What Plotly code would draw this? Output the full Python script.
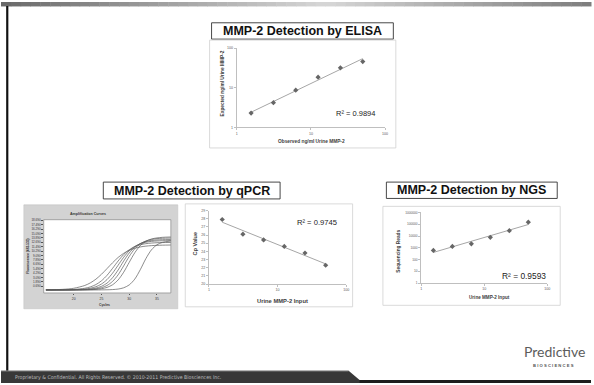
import numpy as np
import plotly.graph_objects as go

W, H = 594, 385

# ---------------- data ----------------
conc = [1.5625, 3.125, 6.25, 12.5, 25, 50]
elisa_expected = [2.3, 4.2, 8.7, 18.5, 32, 46]
qpcr_cp = [27.9, 26.1, 25.4, 24.6, 23.8, 22.3]
ngs_reads = [590, 1300, 2150, 7800, 28500, 150000]

conc_ticks = [1, 10, 100]
conc_ticktext = ["1", "10", "100"]
elisa_yticks = [1, 10, 100]
elisa_yticktext = ["1", "10", "100"]
cp_ticks = [20, 21, 22, 23, 24, 25, 26, 27, 28, 29]
ngs_ticks = [1, 10, 100, 1000, 10000, 100000, 1000000]
ngs_ticktext = ["1", "10", "100", "1000", "10000", "100000", "1000000"]

r2_elisa = "R² = 0.9894"
r2_qpcr = "R² = 0.9745"
r2_ngs = "R² = 0.9593"

amp_cycles = [15, 18, 20, 22, 23, 24, 25, 26, 27, 28, 29, 30, 31, 32, 33, 34, 35, 36, 37.5]
amp_curve_a = [-0.27, -0.14, 0.15, 0.92, 1.63, 2.64, 3.97, 5.53, 7.12, 8.57, 9.70, 10.54, 11.09, 11.45, 11.67, 11.80, 11.88, 11.93, 11.97]
amp_curve_b = [-0.30, -0.26, -0.17, 0.16, 0.53, 1.17, 2.19, 3.69, 5.59, 7.60, 9.36, 10.67, 11.53, 12.05, 12.34, 12.50, 12.60, 12.64, 12.67]
amp_curve_c = [-0.30, -0.28, -0.24, -0.06, 0.17, 0.58, 1.31, 2.52, 4.28, 6.45, 8.62, 10.38, 11.59, 12.32, 12.73, 12.96, 13.08, 13.13, 13.17]
amp_curve_d = [-0.30, -0.30, -0.27, -0.18, -0.05, 0.20, 0.68, 1.56, 3.04, 5.14, 7.59, 9.79, 11.39, 12.38, 12.93, 13.21, 13.36, 13.43, 13.47]
amp_curve_e = [-0.30, -0.30, -0.28, -0.23, -0.16, -0.01, 0.31, 0.91, 2.03, 3.83, 6.27, 8.85, 10.93, 12.31, 13.09, 13.50, 13.71, 13.81, 13.87]
amp_curve_f = [-0.30, -0.30, -0.30, -0.27, -0.23, -0.15, 0.03, 0.39, 1.11, 2.43, 4.54, 7.23, 9.85, 11.81, 12.97, 13.61, 13.91, 14.07, 14.16]
amp_curve_g = [-0.30, -0.30, -0.30, -0.30, -0.30, -0.30, -0.28, -0.26, -0.20, -0.06, 0.29, 1.07, 2.66, 5.24, 8.25, 10.64, 12.04, 12.70, 13.07]
amp_curves = [amp_curve_a, amp_curve_b, amp_curve_c, amp_curve_d, amp_curve_e, amp_curve_f, amp_curve_g]
amp_xticks = [20, 25, 30, 35]
amp_yticks = [0.69, 1.89, 3.09, 4.29, 5.49, 6.69, 7.89, 9.09, 10.29, 11.49, 12.69, 13.89, 15.09, 16.29, 17.49, 18.69]

# ---------------- helpers ----------------
def px(x):
    return x / W

def py(y):
    return 1 - y / H

FONT = "Liberation Sans, Arial, sans-serif"

def ann(text, x, y, size, color="#404040", angle=0, family=FONT, xanchor="center"):
    return dict(text=text, x=px(x), y=py(y), xref="paper", yref="paper",
                showarrow=False, textangle=angle, xanchor=xanchor, yanchor="middle",
                font=dict(size=size, color=color, family=family))

def rect(x0, y0, x1, y1, fill="white", line="rgba(0,0,0,0)", lw=0, layer="below"):
    return dict(type="rect", xref="paper", yref="paper",
                x0=px(x0), x1=px(x1), y0=py(y1), y1=py(y0),
                fillcolor=fill, line=dict(color=line, width=lw), layer=layer)

def excel_axis(domain, **kw):
    d = dict(domain=domain, showline=True, linecolor="#bfbfbf", linewidth=0.8,
             ticks="outside", ticklen=2, tickcolor="#bfbfbf", tickwidth=0.6,
             showgrid=False, zeroline=False,
             tickfont=dict(size=3.6, color="#595959", family=FONT))
    d.update(kw)
    return d

fig = go.Figure()

# ---------------- fits (trend lines) ----------------
lx = np.log10(conc)
e_fit = np.polyfit(lx, np.log10(elisa_expected), 1)
q_fit = np.polyfit(lx, qpcr_cp, 1)
n_fit = np.polyfit(lx, np.log10(ngs_reads), 1)
xe = np.array([min(conc), max(conc)])
lxe = np.log10(xe)

marker = dict(symbol="diamond", size=4, color="#666666")
trend = dict(color="#a6a6a6", width=1)

# ELISA
fig.add_trace(go.Scatter(x=xe, y=10 ** np.polyval(e_fit, lxe), mode="lines", line=trend,
                         xaxis="x", yaxis="y", hoverinfo="skip"))
fig.add_trace(go.Scatter(x=conc, y=elisa_expected, mode="markers", marker=marker,
                         xaxis="x", yaxis="y"))
# Amplification curves
for c in amp_curves:
    fig.add_trace(go.Scatter(x=amp_cycles, y=c, mode="lines",
                             line=dict(color="#5a5a5a", width=0.7, shape="spline", smoothing=0.8),
                             xaxis="x2", yaxis="y2", hoverinfo="skip"))
# qPCR
fig.add_trace(go.Scatter(x=xe, y=np.polyval(q_fit, lxe), mode="lines", line=trend,
                         xaxis="x3", yaxis="y3", hoverinfo="skip"))
fig.add_trace(go.Scatter(x=conc, y=qpcr_cp, mode="markers", marker=marker,
                         xaxis="x3", yaxis="y3"))
# NGS
fig.add_trace(go.Scatter(x=xe, y=10 ** np.polyval(n_fit, lxe), mode="lines", line=trend,
                         xaxis="x4", yaxis="y4", hoverinfo="skip"))
fig.add_trace(go.Scatter(x=conc, y=ngs_reads, mode="markers", marker=marker,
                         xaxis="x4", yaxis="y4"))

# ---------------- shapes ----------------
shapes = []
# top gradient band
n = 60
for i in range(n):
    t = (i + 0.5) / n
    g = int(105 + 110 * max(0.0, 1 - abs(t - 0.55) / 0.55))
    shapes.append(rect(W * i / n, 0, W * (i + 1) / n + 0.5, 4.5, fill=f"rgb({g},{g},{g})"))
# left black line
shapes.append(rect(5.2, 4, 7.4, 373, fill="#111111"))
# bottom bar
def path_pts(pts):
    return "M " + " L ".join(f"{px(a):.5f},{py(b):.5f}" for a, b in pts) + " Z"
shapes.append(dict(type="path", xref="paper", yref="paper", layer="below",
                   path=path_pts([(0, 372.5), (350, 372.5), (361, 382), (594, 382), (594, 385), (0, 385)]),
                   fillcolor="#383838", line=dict(width=0)))
shapes.append(dict(type="path", xref="paper", yref="paper", layer="below",
                   path=path_pts([(361, 382), (594, 382), (594, 385), (361, 385)]),
                   fillcolor="#1e1e1e", line=dict(width=0)))
shapes.append(dict(type="line", xref="paper", yref="paper", layer="below",
                   x0=px(0), x1=px(350), y0=py(372.8), y1=py(372.8),
                   line=dict(color="#9a9a9a", width=0.8)))

# title boxes
shapes.append(rect(212, 21, 395, 37.5, fill="white", line="#333333", lw=0.9))
shapes.append(rect(103, 182, 281, 199, fill="white", line="#333333", lw=0.9))
shapes.append(rect(388, 182, 560, 198.5, fill="white", line="#333333", lw=0.9))
# chart area boxes
shapes.append(rect(210, 38.5, 397.5, 147.5, fill="white", line="#d0d0d0", lw=0.8))
shapes.append(rect(185.5, 204, 354, 308, fill="white", line="#d0d0d0", lw=0.8))
shapes.append(rect(384.5, 206.5, 563, 306.5, fill="white", line="#d0d0d0", lw=0.8))
# amplification panel
shapes.append(rect(23, 205, 178, 310, fill="#d3d3d3", line="#c4c4c4", lw=0.6))
shapes.append(rect(43, 220, 171, 294, fill="white", line="#777777", lw=0.6))

# ---------------- annotations ----------------
anns = []
TITLE = 12.5
anns.append(ann("<b>MMP-2 Detection by ELISA</b>", 303.5, 29.5, TITLE, color="#111111"))
anns.append(ann("<b>MMP-2 Detection by qPCR</b>", 192, 190.5, TITLE, color="#111111"))
anns.append(ann("<b>MMP-2 Detection by NGS</b>", 474, 190, TITLE, color="#111111"))

# ELISA texts
anns.append(ann("<b>Expected ng/ml Urine MMP-2</b>", 223.3, 82.5, 4.8, angle=-90))
anns.append(ann("<b>Observed ng/ml Urine MMP-2</b>", 312.5, 140.7, 4.8))
anns.append(ann(r2_elisa, 357.3, 113, 7.5, color="#222222"))
# qPCR texts
anns.append(ann("<b>Cp Value</b>", 195.7, 243.7, 5.6, angle=-90))
anns.append(ann("<b>Urine MMP-2 Input</b>", 283, 302.3, 5.8))
anns.append(ann(r2_qpcr, 318, 223.3, 7.6, color="#222222"))
# NGS texts
anns.append(ann("<b>Sequencing Reads</b>", 399.3, 251.7, 4.8, angle=-90))
anns.append(ann("<b>Urine MMP-2 Input</b>", 491.7, 298.3, 4.6))
anns.append(ann(r2_ngs, 526.7, 277.3, 8.4, color="#222222"))
# Amplification texts
anns.append(ann("<b>Amplification Curves</b>", 88, 213.8, 3.6, color="#333333"))
anns.append(ann("<b>Fluorescence (483-533)</b>", 27.5, 257, 3.2, angle=-90, color="#333333"))
anns.append(ann("<b>Cycles</b>", 104, 306, 3.4, color="#333333"))

# footer
anns.append(ann("Proprietary &amp; Confidential. All Rights Reserved. © 2010-2011 Predictive Biosciences Inc.",
                12.5, 379.0, 5.2, color="#bdbdbd",
                family="Liberation Sans Narrow, DejaVu Sans Condensed, sans-serif", xanchor="left"))
anns.append(ann("Predictive", 557, 353, 14, color="#5c5c5c", family="Lato, Open Sans, sans-serif"))
anns.append(ann("<b>B I O S C I E N C E S</b>", 556, 367.5, 4.2, color="#555555",
                family="Liberation Sans, Arial, sans-serif"))

# ---------------- layout ----------------
fig.update_layout(
    width=W, height=H, margin=dict(l=0, r=0, t=0, b=0),
    paper_bgcolor="white", plot_bgcolor="rgba(0,0,0,0)",
    showlegend=False, shapes=shapes, annotations=anns,
    xaxis=excel_axis([px(237.3), px(386.7)], type="log", range=[0, 2],
                     tickvals=conc_ticks, ticktext=conc_ticktext, anchor="y"),
    yaxis=excel_axis([py(126.7), py(46.7)], type="log", range=[0, 2],
                     tickvals=elisa_yticks, ticktext=elisa_yticktext, anchor="x"),
    xaxis2=dict(domain=[px(43), px(171)], range=[14.6, 37.5], anchor="y2",
                tickvals=amp_xticks, ticks="outside", ticklen=1.5, tickcolor="#555",
                showline=False, showgrid=False, zeroline=False,
                tickfont=dict(size=3.4, color="#333", family=FONT)),
    yaxis2=dict(domain=[py(294), py(220)], range=[-1.12, 18.88], anchor="x2",
                tickvals=amp_yticks, ticktext=[f"{v:.3f}" for v in amp_yticks],
                ticks="outside", ticklen=1.5, tickcolor="#555",
                showline=False, showgrid=False, zeroline=False,
                tickfont=dict(size=3.0, color="#333", family=FONT)),
    xaxis3=excel_axis([px(209.3), px(347.7)], type="log", range=[0, 2],
                      tickvals=conc_ticks, ticktext=conc_ticktext, anchor="y3"),
    yaxis3=excel_axis([py(285), py(210.7)], range=[20, 29],
                      tickvals=cp_ticks, anchor="x3"),
    xaxis4=excel_axis([px(423), px(550)], type="log", range=[0, 2],
                      tickvals=conc_ticks, ticktext=conc_ticktext, anchor="y4"),
    yaxis4=excel_axis([py(284), py(212.7)], type="log", range=[0, 6],
                      tickvals=ngs_ticks, ticktext=ngs_ticktext, anchor="x4",
                      tickfont=dict(size=3.2, color="#595959", family=FONT)),
)

fig.write_html("out.html", config={"displayModeBar": False},
               post_script="document.body.style.margin='0';document.body.style.overflow='hidden';")
